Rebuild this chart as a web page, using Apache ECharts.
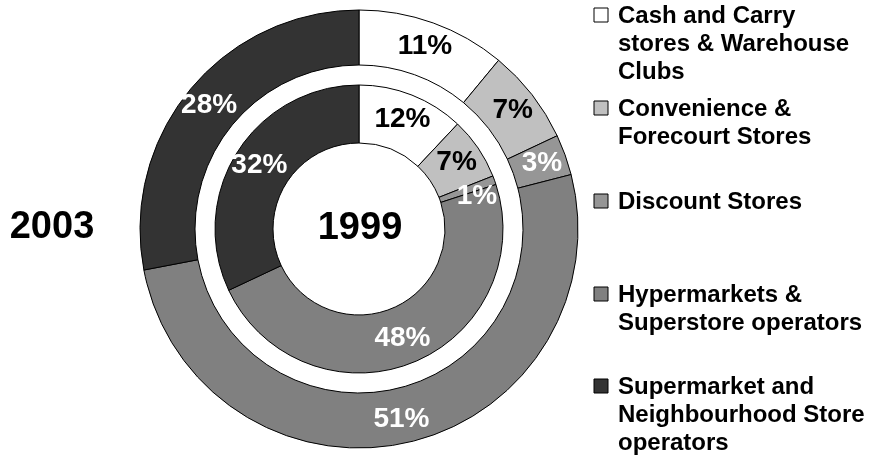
<!DOCTYPE html>
<html>
<head>
<meta charset="utf-8">
<script src="https://cdn.jsdelivr.net/npm/echarts@6/dist/echarts.min.js"></script>
<style>
  html, body { margin: 0; padding: 0; background: #fff; }
  #chart { width: 876px; height: 458px; }
</style>
</head>
<body>
<div id="chart"></div>
<script>
// Store formats, shares of sales (%) in 2003 (outer ring) and 1999 (inner ring)
const categories = [
  'Cash and Carry stores & Warehouse Clubs',
  'Convenience & Forecourt Stores',
  'Discount Stores',
  'Hypermarkets & Superstore operators',
  'Supermarket and Neighbourhood Store operators'
];
// Legend text broken into the lines it is printed on
const legendLines = [
  ['Cash and Carry', 'stores & Warehouse', 'Clubs'],
  ['Convenience &', 'Forecourt Stores'],
  ['Discount Stores'],
  ['Hypermarkets &', 'Superstore operators'],
  ['Supermarket and', 'Neighbourhood Store', 'operators']
];
const share2003 = [11, 7, 3, 51, 28];
const share1999 = [12, 7, 1, 48, 32];
const yearOuter = '2003';
const yearInner = '1999';

const fills = ['#ffffff', '#c0c0c0', '#969696', '#808080', '#333333'];
const labelInk = ['#000000', '#000000', '#ffffff', '#ffffff', '#ffffff'];
const FONT = '"Liberation Sans", Arial, Helvetica, sans-serif';

function ringData(values, nudge) {
  return values.map((v, i) => ({
    name: categories[i],
    value: v,
    itemStyle: { color: fills[i] },
    label: Object.assign({ color: labelInk[i] }, nudge && nudge[i] ? { offset: nudge[i] } : {})
  }));
}

function ring(name, values, radius, nudge) {
  return {
    name: name,
    type: 'pie',
    center: [359, 229],
    radius: radius,
    startAngle: 90,
    clockwise: true,
    avoidLabelOverlap: false,
    minShowLabelAngle: 0,
    silent: true,
    itemStyle: { borderColor: '#000', borderWidth: 1 },
    label: {
      show: true,
      position: 'inside',
      formatter: '{c}%',
      fontFamily: FONT,
      fontWeight: 'bold',
      fontSize: 28,
      overflow: 'none'
    },
    labelLayout: { hideOverlap: false },
    labelLine: { show: false },
    emphasis: { disabled: true },
    data: ringData(values, nudge)
  };
}

// Legend: swatch plus wrapped text for each store format
const legendTop = [8, 101, 194, 287, 379];
const lineStep = 28;
const legendGraphics = [];
legendLines.forEach((lines, i) => {
  legendGraphics.push({
    type: 'rect',
    shape: { x: 594, y: legendTop[i], width: 14, height: 14 },
    style: { fill: fills[i], stroke: '#000', lineWidth: 1 }
  });
  lines.forEach((t, j) => {
    legendGraphics.push({
      type: 'text',
      x: 618,
      y: legendTop[i] + 8 + j * lineStep,
      style: {
        text: t,
        font: 'bold 24px ' + FONT,
        fill: '#000',
        verticalAlign: 'middle'
      }
    });
  });
});

legendGraphics.push({
  type: 'text', x: 52, y: 228,
  style: { text: yearOuter, font: 'bold 38px ' + FONT, fill: '#000',
           align: 'center', verticalAlign: 'middle' }
});
legendGraphics.push({
  type: 'text', x: 360, y: 229,
  style: { text: yearInner, font: 'bold 38px ' + FONT, fill: '#000',
           align: 'center', verticalAlign: 'middle' }
});

const chart = echarts.init(document.getElementById('chart'), null, { renderer: 'canvas' });
chart.setOption({
  backgroundColor: '#ffffff',
  animation: false,
  series: [
    ring(yearOuter, share2003, [164, 219]),
    // the thin 1% slice label sits a little outside its sliver
    ring(yearInner, share1999, [86, 144], { 2: [7, 7] })
  ],
  graphic: legendGraphics
});
</script>
</body>
</html>
